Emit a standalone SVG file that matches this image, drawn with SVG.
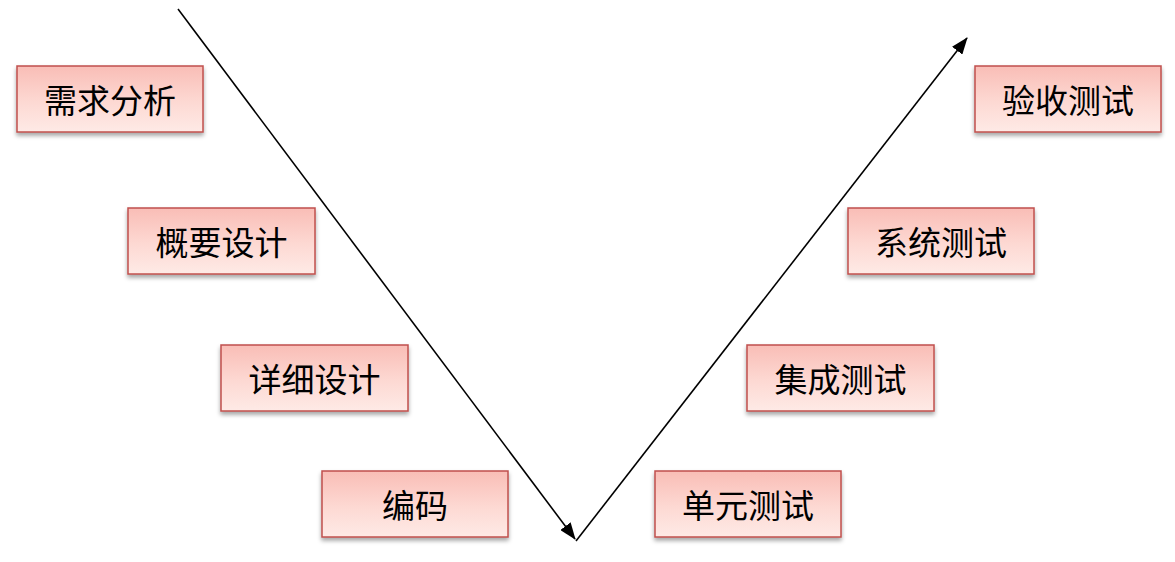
<svg xmlns="http://www.w3.org/2000/svg" width="1175" height="562" viewBox="0 0 1175 562">
<style>
.box rect{fill:url(#g);stroke:#C0504D;stroke-width:1.5;filter:url(#sh)}
.box text{font-family:"Noto Sans CJK SC","Liberation Sans",sans-serif;font-size:33px;fill:#000;text-anchor:middle;dominant-baseline:central}
.conn line{stroke:#000;stroke-width:1.6;fill:none}
</style>
<defs>
<linearGradient id="g" x1="0" y1="0" x2="0" y2="1">
<stop offset="0" stop-color="#F9BDB6"/>
<stop offset="0.55" stop-color="#FDD9D3"/>
<stop offset="1" stop-color="#FEEAE6"/>
</linearGradient>
<filter id="sh" x="-10%" y="-10%" width="120%" height="140%">
<feDropShadow dx="0" dy="3" stdDeviation="2" flood-color="#000" flood-opacity="0.35"/>
</filter>
<marker id="ah2" viewBox="0 0 17 13" refX="16" refY="6.5" markerWidth="17" markerHeight="13" markerUnits="userSpaceOnUse" orient="auto">
<path d="M0,0 L17,6.5 L0,13 z" fill="#000"/>
</marker>
</defs>
<g class="conn">
<line x1="178" y1="9" x2="575" y2="539" marker-end="url(#ah2)"/>
<line x1="576" y1="541" x2="967" y2="38" marker-end="url(#ah2)"/>
</g>
<g id="n1" class="box"><rect x="17" y="66" width="186" height="66"/><text x="110" y="99">需求分析</text></g>
<g id="n2" class="box"><rect x="128" y="208" width="187" height="66"/><text x="221.5" y="241">概要设计</text></g>
<g id="n3" class="box"><rect x="221" y="345" width="187" height="66"/><text x="314.5" y="378">详细设计</text></g>
<g id="n4" class="box"><rect x="322" y="471" width="186" height="66"/><text x="415" y="504">编码</text></g>
<g id="n5" class="box"><rect x="655" y="471" width="186" height="66"/><text x="748" y="504">单元测试</text></g>
<g id="n6" class="box"><rect x="747" y="345" width="187" height="66"/><text x="840.5" y="378">集成测试</text></g>
<g id="n7" class="box"><rect x="848" y="208" width="186" height="66"/><text x="941" y="241">系统测试</text></g>
<g id="n8" class="box"><rect x="975" y="66" width="186" height="66"/><text x="1068" y="99">验收测试</text></g>
</svg>
